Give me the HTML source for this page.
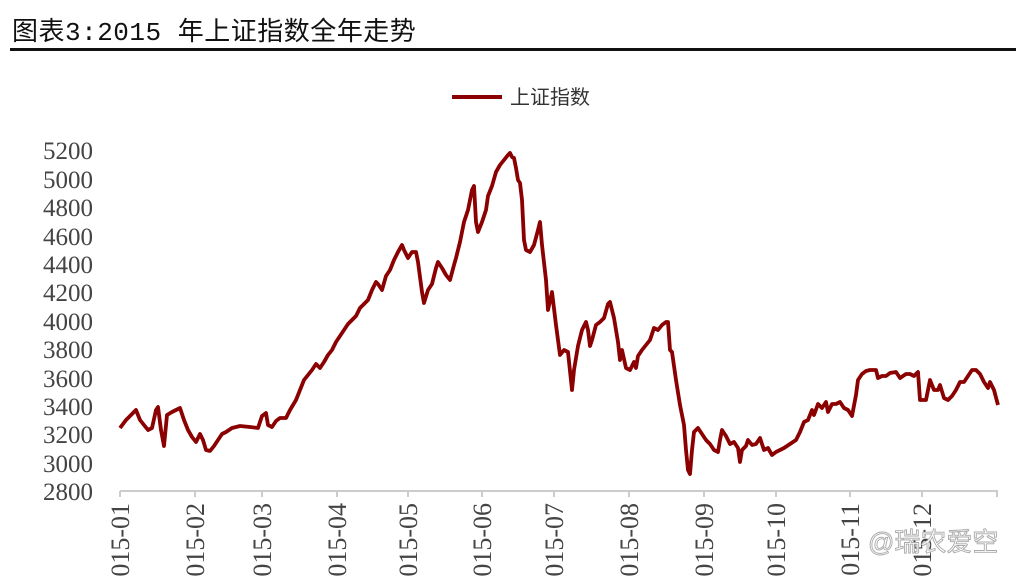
<!DOCTYPE html>
<html><head><meta charset="utf-8"><style>
body{margin:0;background:#fff;}
svg{display:block;}
</style></head><body>
<svg width="1025" height="577" viewBox="0 0 1025 577" xmlns="http://www.w3.org/2000/svg">
<text x="12" y="40" font-family="'Liberation Mono','Noto Sans CJK SC',sans-serif" font-size="26" letter-spacing="0.5" fill="#111">图表3:2015 年上证指数全年走势</text>
<rect x="10" y="48" width="1006" height="3" fill="#111"/>
<line x1="452" y1="97" x2="502" y2="97" stroke="#8b0000" stroke-width="4"/>
<text x="510" y="104" font-family="'Liberation Sans','Noto Sans CJK SC',sans-serif" font-size="20" fill="#333">上证指数</text>
<g font-family="'Liberation Serif',serif" font-size="25" fill="#444" text-anchor="end">
<text x="93" y="159">5200</text><text x="93" y="188">5000</text><text x="93" y="216">4800</text><text x="93" y="245">4600</text><text x="93" y="273">4400</text><text x="93" y="301">4200</text><text x="93" y="330">4000</text><text x="93" y="358">3800</text><text x="93" y="387">3600</text><text x="93" y="415">3400</text><text x="93" y="443">3200</text><text x="93" y="472">3000</text><text x="93" y="500">2800</text>
</g>
<line x1="120" y1="491" x2="998" y2="491" stroke="#ccc" stroke-width="2"/>
<g stroke="#ccc" stroke-width="2">
<line x1="120" y1="491" x2="120" y2="497"/><line x1="195" y1="491" x2="195" y2="497"/><line x1="262" y1="491" x2="262" y2="497"/><line x1="337" y1="491" x2="337" y2="497"/><line x1="408" y1="491" x2="408" y2="497"/><line x1="482" y1="491" x2="482" y2="497"/><line x1="554" y1="491" x2="554" y2="497"/><line x1="629" y1="491" x2="629" y2="497"/><line x1="704" y1="491" x2="704" y2="497"/><line x1="776" y1="491" x2="776" y2="497"/><line x1="850" y1="491" x2="850" y2="497"/><line x1="922" y1="491" x2="922" y2="497"/><line x1="997" y1="491" x2="997" y2="497"/>
</g>
<g font-family="'Liberation Serif',serif" font-size="26" fill="#444" text-anchor="end">
<text transform="translate(129,503) rotate(-90)">2015-01</text>
<text transform="translate(204,503) rotate(-90)">2015-02</text>
<text transform="translate(271,503) rotate(-90)">2015-03</text>
<text transform="translate(346,503) rotate(-90)">2015-04</text>
<text transform="translate(417,503) rotate(-90)">2015-05</text>
<text transform="translate(491,503) rotate(-90)">2015-06</text>
<text transform="translate(563,503) rotate(-90)">2015-07</text>
<text transform="translate(638,503) rotate(-90)">2015-08</text>
<text transform="translate(713,503) rotate(-90)">2015-09</text>
<text transform="translate(785,503) rotate(-90)">2015-10</text>
<text transform="translate(859,503) rotate(-90)">2015-11</text>
<text transform="translate(931,503) rotate(-90)">2015-12</text>
</g>
<polyline fill="none" stroke="#8b0000" stroke-width="3.8" stroke-linejoin="round" points="120,428 126,420 132,414 136,410 140,420 144,425 148,430 152,428 156,410 158,407 161,430 164,446 167,415 172,412 176,410 180,408 184,420 188,430 192,437 196,442 200,434 203,440 206,450 210,451 214,446 218,440 222,434 226,432 232,428 240,426 250,427 258,428 262,416 266,413 268,425 272,427 276,421 280,418 286,418 290,410 296,400 300,390 304,380 308,375 312,370 316,364 320,368 324,362 328,355 332,350 336,342 340,336 344,330 348,324 352,320 356,316 360,308 364,304 368,300 372,290 376,282 378,284 382,290 386,276 390,270 394,260 398,252 402,245 404,250 408,258 412,252 416,252 418,262 422,292 424,303 428,290 432,284 436,268 438,262 442,268 446,275 450,280 454,265 456,258 460,242 464,222 468,210 472,190 474,186 476,222 478,232 482,222 486,210 488,196 492,186 496,172 500,165 504,160 508,155 510,153 512,157 514,158 516,168 518,180 520,183 522,200 524,240 526,250 530,252 534,245 538,230 540,222 542,245 546,280 548,310 552,292 556,325 560,355 564,350 568,352 572,390 574,370 578,346 582,330 586,322 588,330 590,346 592,340 596,325 600,322 604,318 608,304 610,302 614,318 618,342 620,360 622,350 626,368 630,370 634,362 636,368 638,356 642,350 646,345 650,340 654,328 658,330 662,325 666,322 668,322 670,350 672,352 676,380 680,405 684,425 686,450 688,470 690,474 692,450 694,432 698,428 702,434 706,440 710,444 714,450 718,452 720,440 722,430 726,436 730,444 734,442 738,448 740,462 742,450 746,446 748,440 752,445 756,444 760,438 764,450 768,448 772,455 776,452 780,450 784,448 790,444 796,440 800,432 804,422 808,420 812,410 814,415 818,404 822,408 826,402 828,412 832,404 836,404 840,402 844,408 848,410 852,416 856,395 858,380 862,374 866,371 870,370 876,370 878,378 882,376 886,376 890,373 896,372 900,378 906,374 910,374 914,376 916,374 918,372 920,400 926,400 928,390 930,380 934,390 938,390 940,385 944,398 948,400 952,396 956,390 960,382 964,382 968,376 972,370 976,370 980,374 984,382 988,388 990,382 994,390 998,405"/>
<text x="868" y="551" font-family="'Liberation Sans','Noto Sans CJK SC',sans-serif" font-size="26" fill="#fff" stroke="#aaa" stroke-width="0.9">@瑞农爱空</text>
</svg>
</body></html>
